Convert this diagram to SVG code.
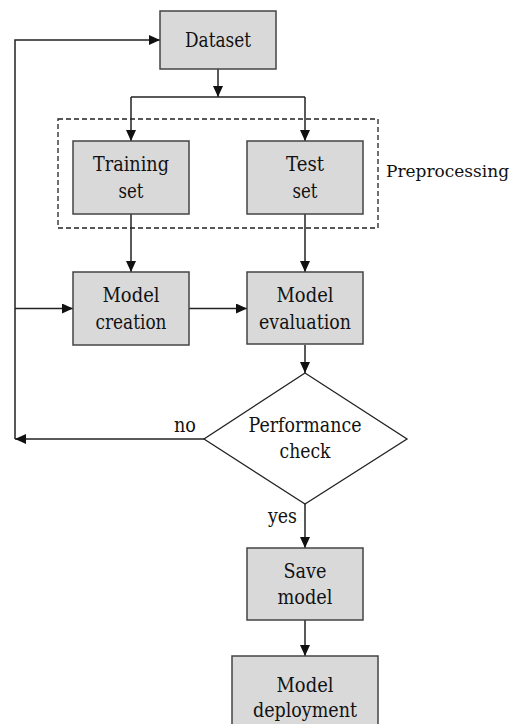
<svg xmlns="http://www.w3.org/2000/svg" width="514" height="724" viewBox="0 0 514 724">
<defs>
<marker id="ah" markerWidth="11" markerHeight="10" refX="11" refY="5" orient="auto" markerUnits="userSpaceOnUse">
<path d="M0,0 L11,5 L0,10 Z" fill="#111"/>
</marker>
<style>
.box{fill:#d9d9d9;stroke:#444;stroke-width:1.5}
.dia{fill:#fff;stroke:#222;stroke-width:1.3}
text{font-family:'DejaVu Serif','Liberation Serif',serif;font-size:20px;fill:#111}
.t{text-anchor:middle}
.c{fill:none;stroke:#222;stroke-width:1.5}
.ca{fill:none;stroke:#222;stroke-width:1.5;marker-end:url(#ah)}
.dash{fill:none;stroke:#222;stroke-width:1.3;stroke-dasharray:5,3}
</style>
</defs>
<rect width="514" height="724" fill="#fff"/>
<g id="preprocessing">
<rect class="dash" x="58" y="119" width="320" height="109"/>
<text x="386" y="177" style="font-size:17px" textLength="123" lengthAdjust="spacingAndGlyphs">Preprocessing</text>
</g>
<g id="connectors">
<path class="ca" d="M218,69 V97"/>
<path class="c" d="M131,97 H305"/>
<path class="ca" d="M131,97 V141"/>
<path class="ca" d="M305,97 V141"/>
<path class="ca" d="M131,214 V272"/>
<path class="ca" d="M305,214 V272"/>
<path class="ca" d="M189,308.5 H247"/>
<path class="ca" d="M15,308.5 H73"/>
<path class="ca" d="M305,345 V373"/>
<path class="ca" d="M204,439 H15"/>
<path class="ca" d="M15,439 V40 H160"/>
<path class="ca" d="M305,504 V548"/>
<path class="ca" d="M305,620 V656"/>
<text x="174" y="432" textLength="22" lengthAdjust="spacingAndGlyphs">no</text>
<text x="268" y="523" textLength="29" lengthAdjust="spacingAndGlyphs">yes</text>
</g>
<g id="dataset">
<rect class="box" x="160" y="11" width="116" height="58"/>
<text class="t" x="218" y="47" textLength="66" lengthAdjust="spacingAndGlyphs">Dataset</text>
</g>
<g id="training">
<rect class="box" x="73" y="141" width="116" height="73"/>
<text class="t" x="131" y="171" textLength="76" lengthAdjust="spacingAndGlyphs">Training</text>
<text class="t" x="131" y="198" textLength="25" lengthAdjust="spacingAndGlyphs">set</text>
</g>
<g id="test">
<rect class="box" x="247" y="141" width="116" height="73"/>
<text class="t" x="305" y="171" textLength="38" lengthAdjust="spacingAndGlyphs">Test</text>
<text class="t" x="305" y="198" textLength="25" lengthAdjust="spacingAndGlyphs">set</text>
</g>
<g id="creation">
<rect class="box" x="73" y="272" width="116" height="73"/>
<text class="t" x="131" y="302" textLength="57" lengthAdjust="spacingAndGlyphs">Model</text>
<text class="t" x="131" y="329" textLength="71" lengthAdjust="spacingAndGlyphs">creation</text>
</g>
<g id="evaluation">
<rect class="box" x="247" y="272" width="116" height="72"/>
<text class="t" x="305" y="302" textLength="57" lengthAdjust="spacingAndGlyphs">Model</text>
<text class="t" x="305" y="329" textLength="92" lengthAdjust="spacingAndGlyphs">evaluation</text>
</g>
<g id="check">
<polygon class="dia" points="305,373 407,439 305,504 204,439"/>
<text class="t" x="305" y="432" textLength="113" lengthAdjust="spacingAndGlyphs">Performance</text>
<text class="t" x="305" y="458" textLength="51" lengthAdjust="spacingAndGlyphs">check</text>
</g>
<g id="save">
<rect class="box" x="247" y="548" width="116" height="72"/>
<text class="t" x="305" y="578" textLength="43" lengthAdjust="spacingAndGlyphs">Save</text>
<text class="t" x="305" y="604" textLength="55" lengthAdjust="spacingAndGlyphs">model</text>
</g>
<g id="deployment">
<rect class="box" x="232" y="656" width="146" height="80"/>
<text class="t" x="305" y="692" textLength="57" lengthAdjust="spacingAndGlyphs">Model</text>
<text class="t" x="305" y="717" textLength="104" lengthAdjust="spacingAndGlyphs">deployment</text>
</g>
</svg>
